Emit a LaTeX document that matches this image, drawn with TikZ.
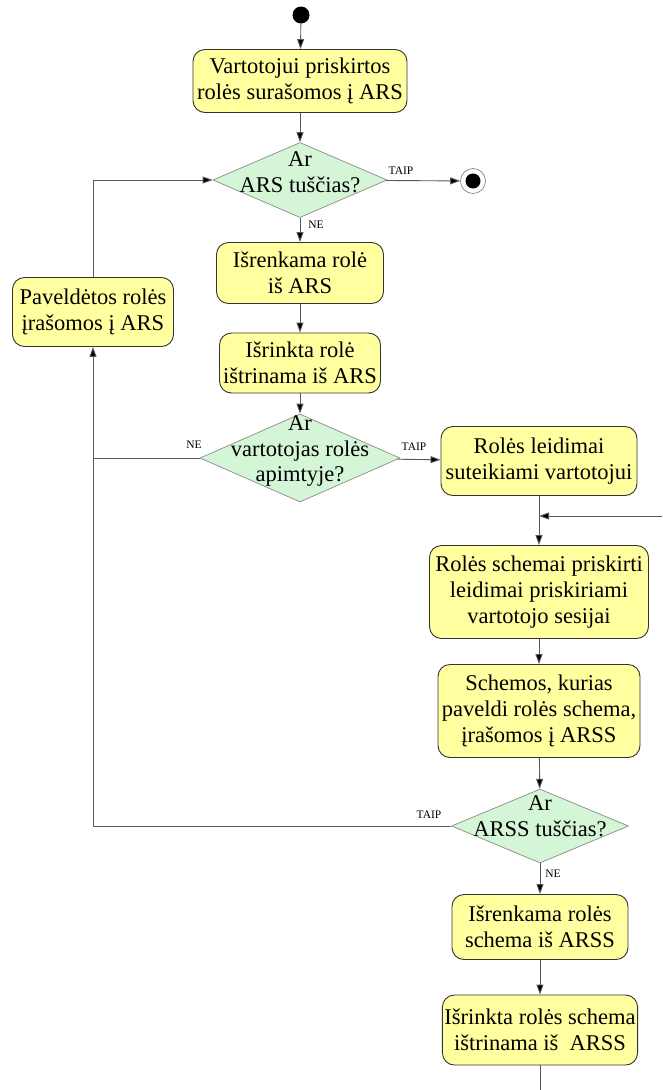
\documentclass[tikz,border=0pt]{standalone}
\usepackage{fontspec}
\setmainfont{Liberation Serif}
\usetikzlibrary{shapes.geometric,arrows.meta}
\definecolor{actfill}{HTML}{FFFF9F}
\definecolor{decfill}{HTML}{D4F5D6}
\definecolor{edge}{HTML}{5A5A5A}
\begin{document}
\begin{tikzpicture}[x=1pt,y=-1pt,
  act/.style={draw=black!80,line width=0.9pt,fill=actfill,rounded corners=12pt,
    align=center,inner sep=2pt,font=\rmfamily\fontsize{22.5}{26}\selectfont},
  dec/.style={draw=edge!70,line width=0.7pt,fill=decfill,diamond,inner sep=0pt},
  dectext/.style={align=center,font=\rmfamily\fontsize{22.5}{25.5}\selectfont},
  flow/.style={draw=edge,line width=0.9pt,-{Triangle[length=10pt,width=7pt,fill=black]}},
  wire/.style={draw=edge,line width=0.9pt},
  tag/.style={font=\rmfamily\fontsize{11.5}{12}\selectfont,inner sep=0pt}]
\useasboundingbox (0,0) rectangle (662,1090);
\fill[white] (0,0) rectangle (662,1090);

% initial and final states
\node[circle,fill=black,minimum size=17pt,inner sep=0pt] (start) at (301,15) {};
\node[circle,draw=edge!80,line width=0.6pt,fill=white,minimum size=25pt,inner sep=0pt] (final) at (473,181) {};
\fill[black] (final) circle (7.5pt);

% actions
\node[act,minimum width=214pt,minimum height=63pt] (b1) at (300,81) {Vartotojui priskirtos\\rolės surašomos į ARS};
\node[act,minimum width=167pt,minimum height=61pt] (b2) at (300,273) {Išrenkama rolė\\iš ARS};
\node[act,minimum width=161pt,minimum height=60pt] (b3) at (300,363) {Išrinkta rolė\\ištrinama iš ARS};
\node[act,minimum width=161pt,minimum height=69pt] (bl) at (93,312) {Paveldėtos rolės\\įrašomos į ARS};
\node[act,minimum width=196pt,minimum height=69pt] (b4) at (539,461) {Rolės leidimai\\suteikiami vartotojui};
\node[act,minimum width=219pt,minimum height=93pt] (b5) at (539,592) {Rolės schemai priskirti\\leidimai priskiriami\\vartotojo sesijai};
\node[act,minimum width=202pt,minimum height=93pt] (b6) at (539,711) {Schemos, kurias\\paveldi rolės schema,\\įrašomos į ARSS};
\node[act,minimum width=176pt,minimum height=65pt] (b7) at (540,927) {Išrenkama rolės\\schema iš ARSS};
\node[act,minimum width=194pt,minimum height=70pt] (b8) at (540,1030) {Išrinkta rolės schema\\ištrinama iš\ \ ARSS};

% decisions
\node[dec,minimum width=174pt,minimum height=75pt] (d1) at (300,180) {};
\node[dectext] (d1t) at (300,172) {Ar\\ARS tuščias?};
\node[dec,minimum width=200pt,minimum height=88pt] (d2) at (300,458) {};
\node[dectext] (d2t) at (300,451) {Ar\\vartotojas rolės\\apimtyje?};
\node[dec,minimum width=177pt,minimum height=74pt] (d3) at (540,826) {};
\node[dectext] (d3t) at (540,816) {Ar\\ARSS tuščias?};

% corner points of the loops
\coordinate (lt) at (93,180);
\coordinate (lm) at (93,458);
\coordinate (lb) at (93,826);
\coordinate (rin) at (662,516);
\coordinate (rjoin) at (539,516);
\coordinate (out) at (540,1090);

% main flow
\draw[flow] (start) -- (b1);
\draw[flow] (b1) -- (d1);
\draw[flow] (d1) -- (final);
\draw[flow] (d1) -- (b2);
\draw[flow] (b2) -- (b3);
\draw[flow] (b3) -- (d2.north);
\draw[flow] (d2) -- (b4);
\draw[wire] (d2.west) -- (lm);
\draw[wire] (b4) -- (rjoin);
\draw[flow] (rin) -- (rjoin);
\draw[flow] (rjoin) -- (b5);
\draw[flow] (b5) -- (b6);
\draw[flow] (b6) -- (d3);
\draw[flow] (d3) -- (b7);
\draw[flow] (b7) -- (b8);
\draw[wire] (b8) -- (out);

% loops back on the left
\draw[flow] (bl.north) -- (lt) -- (d1.west);
\draw[flow] (d3.west) -- (lb) -- (bl.south);

% guards
\node[tag] (t1) at (401,171) {TAIP};
\node[tag] (n1) at (316,225) {NE};
\node[tag] (n2) at (194,445) {NE};
\node[tag] (t2) at (414,447) {TAIP};
\node[tag] (t3) at (429,815) {TAIP};
\node[tag] (n3) at (553,874) {NE};
\end{tikzpicture}
\end{document}
